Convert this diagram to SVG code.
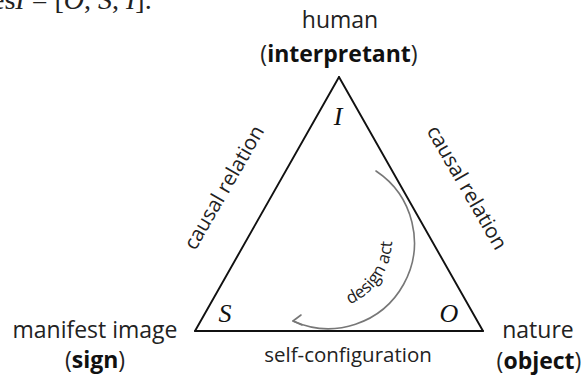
<svg xmlns="http://www.w3.org/2000/svg" width="583" height="378" viewBox="0 0 583 378">
<defs>
<style>
.lbl{font-family:"Open Sans","Liberation Sans",sans-serif;fill:#222;text-anchor:middle}
.node{font-size:23px}
.edge{font-size:20.5px}
.b{font-weight:bold;fill:#111}
.var{font-family:"Liberation Serif","DejaVu Serif",serif;font-style:italic;font-size:26px;fill:#111;text-anchor:middle}
.side{stroke:#111;stroke-width:1.9;fill:none;stroke-linecap:round}
.act{stroke:#777;stroke-width:1.6;fill:none;stroke-linecap:round;stroke-linejoin:round}
</style>
<path id="actText" d="M 309.84 308.94 A 70 70 0 0 0 381.36 202.91"/>
</defs>
<rect width="583" height="378" fill="#fff"/>
<text x="-8" y="8.5" font-family="Liberation Serif, serif" font-size="28" fill="#222">es<tspan font-style="italic">I</tspan> = [<tspan font-style="italic">O</tspan>, <tspan font-style="italic">S</tspan>, <tspan font-style="italic">I</tspan>].</text>
<g id="connectors">
<line class="side" x1="339" y1="77" x2="195" y2="331"/>
<line class="side" x1="339" y1="77" x2="483" y2="331"/>
<line class="side" x1="195" y1="331" x2="483" y2="331"/>
<text class="lbl edge" transform="translate(230 191) rotate(-60)">causal relation</text>
<text class="lbl edge" transform="translate(461 191) rotate(60)">causal relation</text>
<text class="lbl edge" x="348" y="362">self-configuration</text>
<path class="act" d="M 376 171 A 86 86 0 0 1 293 321"/>
<path class="act" d="M 301 315 L 293 321 L 302 325"/>
<text class="lbl" font-size="17" fill="#444"><textPath href="#actText" startOffset="50%">design act</textPath></text>
</g>
<g id="node-interpretant">
<text class="lbl node" x="340" y="28">human</text>
<text class="lbl node" x="339" y="62">(<tspan class="b">interpretant</tspan>)</text>
<text class="var" x="338" y="125">I</text>
</g>
<g id="node-sign">
<text class="lbl node" x="95" y="338">manifest image</text>
<text class="lbl node" x="95" y="368">(<tspan class="b">sign</tspan>)</text>
<text class="var" x="225" y="322">S</text>
</g>
<g id="node-object">
<text class="lbl node" x="538" y="338">nature</text>
<text class="lbl node" x="539" y="369">(<tspan class="b">object</tspan>)</text>
<text class="var" x="449" y="322">O</text>
</g>
</svg>
